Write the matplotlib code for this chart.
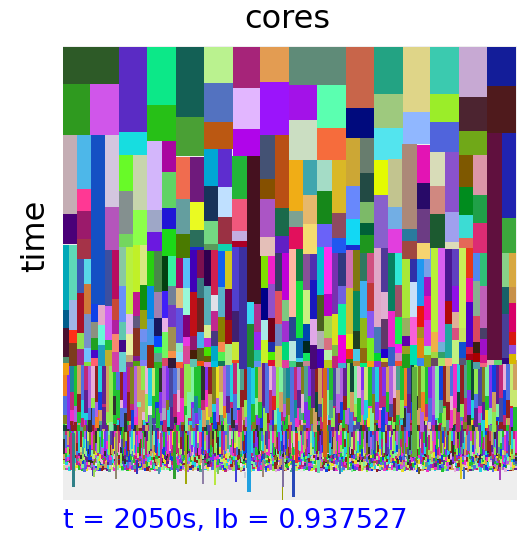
import matplotlib
matplotlib.use('Agg')
import matplotlib.pyplot as plt

# units are a third of a pixel of the original picture: 1362 wide, 1362 tall
SPAN = 1362
LEFT_SHIFT = -9    # left half was read with this x offset
RIGHT_SHIFT = 666  # right half
TOP_SHIFT = -18    # top tier y offset
MID_SHIFT = 597    # middle tier y offset
LOW_SHIFT = 942    # dense tier y offset

# long tasks at the start of the run: x0, x1, y0, y1, colour
top_left = [
    (8, 178, 20, 132, '#2d5a27'), (178, 262, 20, 276, '#5a2bc4'), (262, 348, 20, 196, '#0ce888'),
    (348, 432, 20, 230, '#136055'), (432, 519, 20, 130, '#baf28f'), (519, 601, 20, 145, '#a62479'),
    (601, 688, 20, 125, '#e39c52'), (8, 90, 132, 286, '#2f9a1f'), (90, 178, 132, 284, '#d056ea'),
    (262, 348, 196, 304, '#27c017'), (432, 519, 130, 245, '#5372c0'), (519, 601, 145, 268, '#e2b6ff'),
    (601, 688, 125, 286, '#9b14fb'), (178, 262, 276, 345, '#17dde0'), (348, 432, 230, 348, '#4aa035'),
    (432, 519, 245, 327, '#bb5812'), (519, 601, 268, 347, '#b005ea'), (8, 50, 286, 523, '#c4adb4'),
    (50, 92, 286, 447, '#4db7e9'), (134, 178, 284, 500, '#d3c6df'), (178, 220, 345, 454, '#68fa28'),
    (220, 262, 345, 510, '#c7d5ac'), (262, 305, 304, 510, '#d3b6fb'), (305, 348, 304, 396, '#a9069f'),
    (305, 348, 396, 505, '#60d365'), (348, 390, 350, 478, '#f06c4f'), (390, 432, 350, 487, '#6f1a7c'),
    (432, 474, 327, 438, '#00a6d4'), (474, 517, 327, 441, '#5e2dcf'), (517, 560, 347, 478, '#22b538'),
    (601, 645, 286, 416, '#445274'), (645, 688, 286, 505, '#b94f14'), (601, 645, 416, 477, '#855000'),
    (601, 645, 477, 590, '#ab55c5'), (645, 688, 505, 588, '#1a6a4b'), (50, 92, 447, 513, '#ff3894'),
    (8, 50, 523, 612, '#4a0078'), (50, 92, 513, 597, '#9b1a6b'), (50, 92, 597, 657, '#a53348'),
    (134, 178, 500, 630, '#b455bb'), (178, 220, 454, 582, '#84908f'), (220, 262, 510, 616, '#8cff4a'),
    (178, 220, 582, 622, '#74d65e'), (262, 305, 510, 576, '#9ea7c7'), (262, 305, 576, 633, '#6b19e0'),
    (305, 348, 505, 567, '#2015d6'), (305, 348, 567, 647, '#1cd818'), (348, 390, 478, 582, '#649e9f'),
    (390, 432, 487, 570, '#eafa22'), (348, 390, 582, 655, '#4a7a00'), (390, 432, 570, 622, '#2a6e5b'),
    (432, 474, 438, 544, '#17335a'), (474, 517, 441, 530, '#bfe0ff'), (432, 474, 544, 612, '#74d882'),
    (474, 517, 530, 612, '#9a3143'), (432, 474, 612, 631, '#5a9a5a'), (474, 517, 612, 633, '#0ed2b0'),
    (517, 560, 478, 572, '#f0587c'), (517, 560, 572, 604, '#c4aee0'), (517, 560, 604, 622, '#ac0026'),
    (601, 645, 590, 647, '#e4bfb8'), (645, 688, 588, 640, '#6020c4'),
    (390, 432, 622, 630, '#1a2ad0'),
]
top_right = [
    (12, 182, 20, 135, '#5f8b78'), (182, 268, 20, 205, '#c8654a'), (268, 354, 20, 163, '#23a383'),
    (354, 436, 20, 217, '#dfd588'), (436, 522, 20, 161, '#3bcaaf'), (522, 607, 20, 170, '#c7a9d3'),
    (607, 693, 20, 138, '#131d99'), (12, 97, 135, 240, '#a312e8'), (97, 182, 135, 265, '#5bffb0'),
    (182, 268, 205, 293, '#000a7d'), (268, 354, 163, 263, '#9ec97e'), (354, 436, 217, 312, '#90b7ff'),
    (436, 522, 161, 247, '#9bed29'), (522, 607, 170, 273, '#4c2430'), (607, 693, 138, 278, '#4f1a1c'),
    (12, 97, 240, 360, '#cbdec2'), (97, 182, 265, 360, '#f66c3c'), (182, 225, 293, 438, '#cca735'),
    (225, 268, 293, 398, '#687d6e'), (268, 354, 263, 360, '#53e4ee'), (436, 522, 247, 337, '#5064dc'),
    (522, 607, 273, 345, '#70a818'), (650, 693, 278, 533, '#2023b0'), (12, 54, 360, 514, '#f0ad16'),
    (54, 97, 360, 466, '#3fa6ae'), (97, 140, 360, 454, '#a4dcc6'), (140, 182, 360, 518, '#dab826'),
    (268, 310, 360, 466, '#e4fa00'), (310, 352, 358, 502, '#c2c48f'), (352, 395, 312, 568, '#ac8878'),
    (395, 436, 315, 429, '#e314b4'), (436, 480, 337, 438, '#d8dcb8'), (480, 522, 337, 515, '#8a52cc'),
    (522, 564, 345, 441, '#7e5800'), (564, 607, 345, 464, '#dc96a8'), (225, 268, 398, 487, '#224a44'),
    (182, 225, 438, 536, '#6888fc'), (225, 268, 487, 550, '#7cba68'), (268, 310, 466, 624, '#8860cc'),
    (310, 352, 502, 567, '#72aee4'), (395, 436, 429, 508, '#280a68'), (436, 480, 438, 522, '#d08880'),
    (522, 564, 441, 525, '#008c1e'), (564, 607, 464, 549, '#20a048'), (12, 54, 514, 561, '#7ca292'),
    (54, 97, 466, 553, '#e6b86c'), (97, 140, 454, 551, '#16881a'), (140, 182, 518, 594, '#8e4a60'),
    (182, 225, 536, 616, '#12d8f4'), (225, 268, 550, 584, '#006038'), (225, 268, 584, 640, '#1e961e'),
    (310, 352, 567, 640, '#e23ede'), (352, 395, 568, 602, '#2a7a9e'), (352, 395, 602, 658, '#a04840'),
    (395, 436, 508, 610, '#6c3c84'), (395, 436, 610, 658, '#f6d470'), (436, 480, 522, 624, '#1c5a30'),
    (480, 522, 515, 606, '#a0a0ee'), (480, 522, 606, 628, '#dcdcb8'), (522, 564, 525, 594, '#3cdcd4'),
    (522, 564, 594, 624, '#e46858'), (564, 607, 549, 640, '#dc2c74'), (650, 693, 533, 640, '#3ca83c'),
    (12, 54, 561, 626, '#e2105c'), (54, 97, 553, 642, '#f4dc70'), (97, 140, 551, 622, '#6a62f8'),
    (140, 182, 594, 640, '#2058f0'), (182, 225, 616, 630, '#1a2ad0'),
]

# middle tier: x0, x1, y breaks, colours between the breaks
mid_left = [
    (9, 27, [0, 195, 250, 335, 355, 390], ['#00a8b8', '#005c8c', '#4a1030', '#50906c', '#f0a010']),
    (27, 50, [0, 165, 255, 293, 362], ['#5ed8b8', '#a0b4e8', '#ff3018', '#7c3c1c']),
    (50, 71, [30, 145, 265, 313, 360], ['#3a58b4', '#a81028', '#90e050', '#a02890']),
    (71, 92, [30, 118, 208, 308, 350, 362], ['#58d8e8', '#d07838', '#7890c8', '#70c0ff', '#80e040']),
    (92, 135, [-331, 180], ['#1450c4']),
    (92, 114, [178, 232, 280, 315, 340, 362], ['#1040e8', '#8c9080', '#20a020', '#4808c8', '#ff6070']),
    (114, 135, [180, 240, 300, 362], ['#e4a8c8', '#68f8d8', '#20a0c0']),
    (135, 156, [0, 182, 285, 315, 362], ['#3c4fa0', '#d060f0', '#20c040', '#c0b030']),
    (156, 178, [0, 163, 226, 267, 322, 380], ['#b80c60', '#c84838', '#b020a0', '#f88870', '#d040a8']),
    (178, 198, [0, 124, 232, 285, 320, 380], ['#88c8a0', '#6890f8', '#60c8b0', '#400888', '#68d0d0']),
    (198, 219, [0, 207, 268, 330, 350, 365], ['#b8f040', '#e0b8f0', '#e8f0a0', '#c0a878', '#8c4088']),
    (219, 241, [0, 142, 212, 250, 332, 348, 362], ['#c0f028', '#c01890', '#605880', '#883020', '#801890', '#50a010']),
    (241, 262, [0, 120, 195, 252, 290, 345, 362], ['#d8e880', '#109010', '#98a010', '#7090f0', '#4898e0', '#8080f8']),
    (262, 283, [0, 122, 222, 300, 368], ['#28d010', '#0888e8', '#4898e8', '#8c2810']),
    (283, 305, [0, 142, 218, 273, 305, 325, 352, 368], ['#488848', '#a080b0', '#181860', '#0848ff', '#10f068', '#60a090', '#30b020']),
    (305, 325, [20, 138, 220, 260, 340, 362], ['#034010', '#4020f8', '#e8b0e8', '#70f860', '#d84868']),
    (325, 347, [20, 122, 180, 245, 318, 340, 368], ['#38f0a0', '#708098', '#7038c8', '#a09050', '#f89048', '#301838']),
    (347, 368, [0, 130, 190, 295, 322, 350, 368], ['#a80868', '#e0c080', '#6050e0', '#90e8c0', '#90e0f0', '#f86030']),
    (368, 390, [30, 130, 210, 275, 303, 358], ['#58c0f8', '#98f8d8', '#800078', '#e838e0', '#d84898']),
    (390, 410, [0, 140, 272, 314, 342, 365], ['#4000b8', '#c01018', '#901870', '#482008', '#60c0b0']),
    (410, 432, [0, 98, 160, 260, 308, 348, 362], ['#7c1050', '#387880', '#702020', '#48b0e8', '#586020', '#f05010']),
    (432, 453, [0, 122, 240, 280, 306, 332, 350, 365], ['#300050', '#58b0b8', '#d8f090', '#c030d8', '#48e000', '#686000', '#e070c8']),
    (453, 474, [0, 150, 197, 258, 303, 348, 365], ['#d02050', '#e0e0e8', '#c02890', '#483880', '#00a8c8', '#00c0e0']),
    (474, 496, [0, 127, 215, 292, 322, 348, 362], ['#1060f0', '#58b0c8', '#888000', '#f88850', '#50f050', '#107858']),
    (496, 517, [0, 132, 225, 298, 360], ['#d0c820', '#700050', '#a01010', '#a8e888']),
    (517, 538, [0, 198, 290, 345, 355], ['#5040d0', '#402070', '#c8e838', '#f05018']),
    (538, 560, [0, 372], ['#3c30a0']),
    (560, 581, [-300, 172, 237, 370], ['#45111f', '#38d8f0', '#208830']),
    (581, 602, [-300, 176, 260, 315, 348, 365], ['#45111f', '#b03090', '#9828f0', '#20c098', '#6090f0']),
    (602, 623, [20, 128, 225, 285, 355], ['#80e000', '#000088', '#a8e8e8', '#c8f028']),
    (623, 645, [20, 116, 218, 292, 322, 345, 362], ['#f020c8', '#9050c8', '#700018', '#2030a8', '#50f000', '#e01030']),
    (645, 666, [20, 138, 238, 302, 365], ['#383868', '#e05060', '#7080c0', '#c8d050']),
    (666, 688, [20, 165, 228, 292, 345, 370], ['#c000d8', '#80c880', '#a030d0', '#00d878', '#e040a0']),
]
mid_right = [
    (12, 33, [0, 215, 288, 348, 365], ['#ffb8a0', '#284890', '#b8e8e0', '#40d080']),
    (33, 54, [0, 108, 280, 338, 352, 365], ['#108040', '#10e040', '#0858b0', '#40c8f0', '#306030']),
    (54, 75, [0, 135, 238, 288, 325, 348, 362], ['#885098', '#c8f080', '#0048b0', '#002820', '#10e860', '#c08890']),
    (75, 97, [0, 104, 222, 300, 372], ['#5030b0', '#1818c0', '#e0a8e8', '#480878']),
    (97, 118, [0, 150, 258, 312, 368], ['#08c0d0', '#486020', '#b0b0b0', '#4000b8']),
    (118, 140, [0, 148, 212, 278, 314, 345, 368], ['#ff30f0', '#b800c8', '#a0d850', '#d87080', '#b8f0a8', '#b8c818']),
    (140, 160, [0, 207, 300, 333, 368], ['#7830b0', '#d8e020', '#80b848', '#c02878']),
    (160, 182, [0, 124, 178, 270, 355, 368], ['#303880', '#7060e0', '#10f0a0', '#f000d8', '#40b0d0']),
    (182, 204, [0, 128, 268, 312, 342, 355], ['#d070b0', '#c8c030', '#e0e810', '#f03020', '#308010']),
    (204, 225, [0, 138, 258, 312, 348, 362], ['#807810', '#088858', '#204020', '#48c8e8', '#c08838']),
    (225, 246, [10, 108, 220, 310, 354, 365], ['#307860', '#40b0f0', '#90b818', '#906810', '#00f080']),
    (246, 268, [10, 115, 198, 280, 348, 365], ['#d05080', '#c03838', '#8858f0', '#78f020', '#f8a010']),
    (268, 289, [0, 247, 324, 348, 365], ['#e0a8c8', '#4878b8', '#00d830', '#9030d0']),
    (289, 310, [0, 140, 222, 312, 340, 352, 365], ['#503898', '#e0b0d0', '#603868', '#2000d0', '#c8e830', '#985030']),
    (310, 331, [10, 198, 305, 362], ['#088060', '#f028c8', '#3860c8']),
    (331, 352, [10, 120, 215, 298, 325, 348, 362], ['#30e8d8', '#a05068', '#18f050', '#f020f0', '#d088b8', '#f05030']),
    (352, 374, [30, 218, 273, 303, 326, 370], ['#a8e838', '#98b060', '#6000a8', '#98a020', '#20a018']),
    (374, 395, [30, 112, 217, 300, 360], ['#3030a8', '#c8e0f8', '#f860d8', '#00e0b0']),
    (395, 416, [0, 183, 245, 280, 340, 362], ['#2098f0', '#e81810', '#a89020', '#e08810', '#3888f0']),
    (416, 437, [0, 96, 153, 225, 302, 330, 365], ['#78a0e8', '#a810c0', '#f010a8', '#d838e8', '#80f890', '#88a818']),
    (437, 458, [0, 262, 322, 340, 362], ['#b8f038', '#f0b048', '#a0d840', '#684860']),
    (458, 480, [0, 292, 322, 340, 362], ['#d860f0', '#70b0d8', '#30a068', '#a8e860']),
    (480, 501, [0, 168, 237, 338, 362], ['#481890', '#b00808', '#20a8a0', '#f8b080']),
    (501, 522, [0, 124, 202, 250, 285, 358], ['#6040c0', '#9010e8', '#e0b098', '#d85080', '#c0f080']),
    (522, 544, [0, 250, 292, 340, 360], ['#c8f058', '#c8e060', '#1050d0', '#585878']),
    (544, 564, [0, 100, 170, 305, 328, 345], ['#e83818', '#f010a0', '#5000c8', '#d02040', '#a80018']),
    (564, 585, [0, 107, 212, 290, 325, 350, 372], ['#5088f0', '#88b090', '#d84860', '#382010', '#a80000', '#50a0a8']),
    (585, 607, [0, 124, 250, 282, 330, 355, 365], ['#30c078', '#c060b8', '#484068', '#a010c8', '#d81888', '#f06880']),
    (607, 650, [-345, 345], ['#60103e']),
    (607, 628, [345, 360], ['#e0b8b8']),
    (628, 650, [345, 360], ['#60d870']),
    (650, 672, [10, 127, 208, 338, 358], ['#88d088', '#186068', '#484098', '#300880']),
    (672, 693, [10, 127, 173, 260, 300, 328, 358], ['#d8a840', '#c89048', '#d80068', '#d81810', '#9050e0', '#d8b800']),
]

# dense tier colours, one letter per task
palette = {
    'a': '#e02020', 'b': '#1040e0', 'c': '#20d0e0', 'd': '#602090', 'e': '#e8e020', 'f': '#f030c8',
    'g': '#20c030', 'h': '#90e850', 'i': '#a8a8c0', 'j': '#d0a060', 'k': '#303030', 'l': '#80f0a0',
    'm': '#c02878', 'n': '#104838', 'o': '#f08020', 'p': '#e8b0d8', 'q': '#5070e0', 'r': '#902020',
    's': '#50a090', 't': '#b060e0', 'u': '#e8e8e8', 'v': '#808020', 'w': '#188898', 'x': '#8030f0',
    'y': '#c8e870', 'z': '#4848a0',
}
dense_y = [0, 90, 140, 180, 195, 212, 225, 262, 280, 290, 298, 306, 314, 322, 330]
dense_rows = [
    'oxwgjqmtprcdjhgqrxmvtjhpcygktxzqimhhlggkxrvejtqcmlsrycgjdqpthlswqmtvsxdrjmqgzitdhnlpxygqcmxjtpsgoznhvhgxtlbrjqfcrsgnhzvlxbdmpqyj',
    'qxmtrcdqhtbmjhkgpqrmtljhugbxivzmpfglxwqmfjctyodmqbrhxglgzqmabjtvqwdpxgonzhlsmtbrqjhgtcfvxpmgzrjhxdbkeomqtlsgrpvnhmxcqfdgtjlzbray',
    'vxfrgmckqojdhlgmqkrbfjpxszgtmcdkfvlmqxcjegbrshqkfmjtgvxbhrdlcmgjqfsgxvjkmpchdrgtqmzjcelvfbxrhgskqmdjtopxcghsfjmqvkgdtcelhbrmjxg',
    'ghlrmcjqfxgkvepsbgyxmrcdhlgjfqmtvckgsxlpbyrmjgdfqhtxcvgelkmsjrqbxgfhcmytdpvlrgjckqfsmxbhetgdyrlvqmpjcgxkfsbhtrmgjdlevqxcypsfgmkhrbjtdqlgvxmcehsrfgjpkytqbdlmxvgchrjsfkqtempgdbylxvrcgmhjsqf',
    'nkdrmgsvdqrmnzjdvsnrkgzmqkvrdjmnzdsrvnkmgzrnjvmdqrnzmgkvnrsmzdnjrvmgkznrmsdvnzgrmdnjvzrmsdnrvgzdmnjrvdmzsnrdgmvnzrjdmnvsrzdmgnrvdjzmnrsvdmnzgdrmvnjzdrmsnvdzrgmnd',
    'smjgqxhmcrgtbyvfmkhcgpxqlzdfjmbgvhrqcyxmftgkdhsrlbmpqgxjcfevmhzdgrqtlcxyfmbjgdvkhrgcmxqspldhyfjgtbvmcrxkgqhdzmlfjgxcrtbvmhpgqydsjfxlcmgrkdhtvbqmjxyfglcrsdmhpxgvtkqbmzfjcglrxydhmtsgvqfbkjrchxmgdlpytfgqvbmsrhcxjkgdzlmqfvthyxgcbrmjskdhlgpxqvcmf',
    'kqxmfgjrdyhclsbmvxtgqckfhrjedmpzgxbtlycfqrgsmhkdjvxcgtbqfpmelhyrdzkgjxcmsfqvhtbgrdlkymxjpcgfeqhszrbvtmdgxklcjyfhqgmrsbdxvtpgjkclfhmzeygqrdxbsmvckjtgfhlrqdpymxcgbjsvktqfhremgdzlxycbjmfqvgkshtrdpxcgmljfbyqhtezvrkgdmxscjqflbhypgmtvkrdxcjsgqfmzhblr',
    'mfhrgxcqdjsybkvlgemqtfxcjrhdgpkbmsvzqyfgxclrhtjdemkqbgfsxvcrmhyjlgdtpqkfzbxmcgsrhvedjqlytgmfkxcbrhjsqdgpvmtfyzxklcgqhbrdjsemvftgxkclyrhqmdjpgsbfvztxcmgkrlqehdyjftsbgmcxvrkqhdjlpgfmyzsxtcbgqrkvhjdelmfsgxcqtyrhbkdjmvgpflqszxcgrmthkdbyjqfevlg',
    'jgcqxrmfkhdsbvytlemxgqfcpjrhkdzbgsmyxtvqfcljgrhedkmbxpqfsgvtzychrjlkmdgxqfbsmeyvhctrgjkxpdlqmfbzsgycrvhtkjxdgmeqflbhcsprxjtyvgkmdqzfgclhrbxsjmqvtkegdyfprgcxhlmjbqzskvdtgfxcrmhyeqjlbgskpdvxmfqtcgzhrjkylbdsmxevgfqcrhjt',
    'rqfxmgcsjhydkbtvlepgmqxfcrjzhkdsbygtmvxqfclgrjhpdekmsbzfyxgqtcvhrlmjkdgsxbfqpyemctgvhrzlkjdqxmfgsbcyrhtvkejdlgqxmpfbscgzrhyjktdvmlqgfexcbsrhpjygkmdtqvzxflcgbhrsjmekydqpgtfxvlcmrhbsjzgkqdyfetxvmclgprhqbjskdgmfyxztvhrcqljgbk',
    'hxgrqcmfjbsdykvtlgpmexqcfjrhzkdbsgmytqxvcflrjhgkedpmbsfxzyqtgcvrhjlmkdsqfgbxyepcmvthrgzjkldqmxfsgbychrtjvkdegqlmxpfsbzcgyhtrkvjdmqlxgfscbrephkjytgdvmzqxflcsbgrhjmtkdyqvexgpfclsmbrhzgjkdtyvqxfmcgslrbhejkpdgqmyfxtvcsz',
    'ucpgeyxmlqfrtcuhbsjdpgyemlxcqtufrhbjgypsdlecxmuqfgthrbjylcpeusgdmxqftlhcyrjbgupesxdlmqcfyhtgrujbpgeslxycmdqftuhrjglbyepcsxmdugqtfhylrbcjpgesxmuldqcfthyrgbjupescxmdglqyfthucrbjpegsylxmdqcuftgrhbjypes',
    'yplcuegfqxmstbhjrdcyuplegqmfxstbhjrdgcyuplemqfxsbthjrdycgupelqmfsxbhtjrdgycuplmeqfsbxthrjdcyguplemfqsxbhtjrdcgyuelpqmfsbxtrhjdgyculpemqfsxbthjrdcyguleqpmfsbxhtrjdgcyupelqmfxsbthrjdycgulep',
    'sfclyuxgqepmhtbrjdsyfculxgeqmphtbrjdfscyulgxeqmhptbjrdsfcyuxlgqempthbrjdfsycuxglqemhptbrjdsfyculgxeqmhtpbrjdfscyuxlgqmephtbjrdsfcyulxgeqmhptbrjdfsycuxglqempthbrjdsfyculxgqemhtpbrjd',
]
# how far each task runs past its row, one digit per task, and the size of a digit
reach_short_a = '3718250946172830591746028361957204816395027418362905174682039174850263917405826391740582693174058263917402586391740528639174058'
reach_short_b = '5029374816203957148260395714820639571482063957418206395714820365971482036957148203695714820369571482036957418203695714820369571'
reach_long_a = '2051730496128357049162830571940263817590426138705924168307529416830752941683075294168307529461830752946183057294618305729461830572946183057294618305729461083572946108357294610835729461083572946108357294610835729641083572964108357296410835729641083572964108357'
reach_long_b = '7102938465019283746501928374650192837465091283746509128374650912837465091827346509182734650918273465091827346590182734659018273465901827346590182734659018723465901872346590187234659018723465901872346590187234695018723469501872346950187234695018723469501872346950'
dense_reach = [reach_short_a, reach_short_b, reach_short_a, '', '', reach_long_a, reach_long_b, reach_long_a,
               reach_long_b, reach_long_a, reach_long_b, reach_long_a, reach_long_b, reach_long_a]
dense_step = [6, 5, 4, 0, 0, 6, 3, 1, 1, 1, 1, 1, 1, 0.6]

# tasks far longer than their neighbours, drawn on top: x0, x1, y0, y1, colour
long_left = [
    (30, 40, 220, 330, '#c03080'), (36, 45, 220, 380, '#308088'), (96, 100, 320, 348, '#4040b0'),
    (100, 104, 335, 352, '#a0d060'), (166, 172, 220, 356, '#908870'), (228, 234, 300, 343, '#3038c0'),
    (245, 250, 220, 330, '#d05090'), (293, 299, 320, 342, '#5090b0'), (300, 306, 220, 320, '#c03090'),
    (340, 348, 215, 356, '#30a030'), (374, 381, 220, 372, '#a0a808'), (426, 432, 300, 372, '#9080a8'),
    (463, 468, 300, 375, '#b8e840'), (472, 478, 320, 342, '#80c060'), (526, 532, 300, 366, '#4040d8'),
    (552, 558, 335, 354, '#d0d0d8'), (560, 573, 20, 397, '#20a0e0'), (605, 611, 300, 351, '#a08878'),
    (665, 671, 290, 380, '#8070a0'), (665, 669, 380, 420, '#98a000'),
]
long_right = [
    (22, 30, 300, 410, '#2848b8'), (30, 38, 220, 310, '#e03030'), (97, 104, 300, 340, '#60e0b0'),
    (115, 125, 25, 290, '#d86818'), (162, 168, 300, 342, '#4070b0'), (185, 192, 220, 330, '#60d020'),
    (380, 395, 20, 290, '#60b040'), (400, 405, 320, 342, '#706020'), (524, 531, 290, 357, '#d8c820'),
    (534, 540, 320, 357, '#4070c0'), (642, 648, 320, 361, '#a840c0'),
]


def draw_tasks(ax, tasks, x_shift, y_shift):
    for x0, x1, y0, y1, colour in tasks:
        ax.bar(x0 + x_shift, y1 - y0, x1 - x0, y0 + y_shift, align='edge', color=colour, linewidth=0)


def draw_columns(ax, columns, x_shift):
    for x0, x1, breaks, colours in columns:
        for y0, y1, colour in zip(breaks[:-1], breaks[1:], colours):
            ax.bar(x0 + x_shift, y1 - y0, x1 - x0, y0 + MID_SHIFT, align='edge', color=colour, linewidth=0)


fig = plt.figure(figsize=(5.17, 5.34), dpi=100)
ax = fig.add_axes([63 / 517, 34 / 534, 454 / 517, 454 / 534])
ax.set_facecolor('#eeeeee')

# lowest row first, so the tasks that run past their row stay on top
for i in range(len(dense_rows) - 1, -1, -1):
    row = dense_rows[i]
    top, bottom = dense_y[i], dense_y[i + 1]
    reach = dense_reach[i].ljust(len(row), '0')
    cell = SPAN / len(row)
    lefts = [j * cell for j in range(len(row))]
    heights = [bottom - top + int(reach[j]) * dense_step[i] for j in range(len(row))]
    ax.bar(lefts, heights, cell, top + LOW_SHIFT, align='edge',
           color=[palette[c] for c in row], linewidth=0)

draw_columns(ax, mid_left, LEFT_SHIFT)
draw_columns(ax, mid_right, RIGHT_SHIFT)
draw_tasks(ax, top_left, LEFT_SHIFT, TOP_SHIFT)
draw_tasks(ax, top_right, RIGHT_SHIFT, TOP_SHIFT)
draw_tasks(ax, long_left, LEFT_SHIFT, LOW_SHIFT)
draw_tasks(ax, long_right, RIGHT_SHIFT, LOW_SHIFT)

ax.set_xlim(0, SPAN)
ax.set_ylim(SPAN, 0)
ax.set_xticks([])
ax.set_yticks([])
for spine in ax.spines.values():
    spine.set_visible(False)

fig.text(287 / 517, 1 - 20 / 534, 'cores', fontsize=23, ha='center', va='center')
fig.text(36 / 517, 1 - 236 / 534, 'time', fontsize=23, rotation=90, ha='center', va='center')
fig.text(63 / 517, 1 - 521 / 534, 't = 2050s, lb = 0.937527', fontsize=19.5, color='blue', ha='left', va='center')

fig.savefig('out.png', dpi=100)
